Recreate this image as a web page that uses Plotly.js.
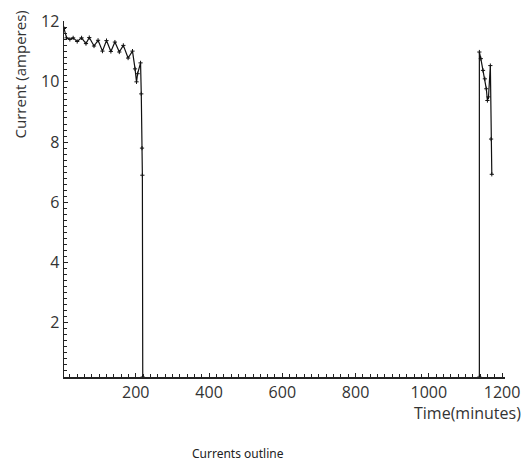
<!DOCTYPE html>
<html><head><meta charset="utf-8">
<script src="https://cdn.plot.ly/plotly-3.0.1.min.js"></script>
<style>html,body{margin:0;padding:0;background:#fff}#chart{width:523px;height:461px}</style>
</head><body><div id="chart"></div>
<script>
// Segment 1 (morning run)
var time1 = [4, 11, 20, 29, 40, 52, 64, 73, 86, 97, 109, 120, 132, 143, 155, 166, 179, 191, 198, 202, 205, 213, 215, 217, 218, 219];
var current1 = [11.77, 11.46, 11.41, 11.46, 11.34, 11.46, 11.27, 11.47, 11.19, 11.38, 11.02, 11.37, 11.01, 11.32, 10.99, 11.21, 10.79, 11.02, 10.43, 10.0, 10.27, 10.63, 9.6, 7.8, 6.9, 0.2];
// Segment 2 (evening run)
var time2 = [1138, 1138, 1142, 1148, 1153, 1157, 1160, 1163, 1168, 1170, 1172];
var current2 = [0.2, 10.99, 10.77, 10.38, 10.1, 9.77, 9.38, 9.5, 10.54, 8.1, 6.93];

var xTitle = "Time(minutes)";
var yTitle = "Current (amperes)";
var caption = "Currents outline";

var lineStyle = {color: "#111", width: 1.2};
var markerStyle = {symbol: "cross-thin", size: 3, line: {color: "#111", width: 1}, color: "#111"};

var traces = [
  {x: time1, y: current1, mode: "lines+markers", line: lineStyle, marker: markerStyle, hoverinfo: "none"},
  {x: time2, y: current2, mode: "lines+markers", line: lineStyle, marker: markerStyle, hoverinfo: "none"}
];

var axisFont = {family: "Open Sans, sans-serif", size: 16, color: "#333"};

var layout = {
  width: 523, height: 461,
  margin: {l: 64, r: 18, t: 21, b: 84},
  showlegend: false,
  paper_bgcolor: "#fff", plot_bgcolor: "#fff",
  xaxis: {
    range: [4, 1208], tickvals: [200, 400, 600, 800, 1000, 1200],
    showgrid: false, zeroline: false, showline: true, linecolor: "#222", linewidth: 1.5,
    ticks: "inside", ticklen: 4, tickcolor: "#222",
    minor: {dtick: 20, tick0: 0, ticks: "inside", ticklen: 3, tickcolor: "#222"},
    tickfont: axisFont
  },
  yaxis: {
    range: [0.2, 12.02], tickvals: [2, 4, 6, 8, 10, 12],
    showgrid: false, zeroline: false, showline: true, linecolor: "#222", linewidth: 1.5,
    ticks: "inside", ticklen: 4, tickcolor: "#222",
    minor: {dtick: 0.2, tick0: 0, ticks: "inside", ticklen: 2.5, tickcolor: "#222"},
    tickfont: axisFont
  },
  annotations: [
    {text: yTitle, textangle: -90, xref: "paper", yref: "paper", x: -0.1, y: 1.035, xanchor: "center", yanchor: "top",
     showarrow: false, font: {family: "Open Sans, sans-serif", size: 15, color: "#333"}},
    {text: xTitle, xref: "paper", yref: "paper", x: 1.041, y: -0.102, xanchor: "right", yanchor: "middle",
     showarrow: false, font: {family: "Open Sans, sans-serif", size: 16, color: "#333"}},
    {text: caption, xref: "paper", yref: "paper", x: 0.395, y: -0.215, xanchor: "center", yanchor: "middle",
     showarrow: false, font: {family: "Noto Sans, sans-serif", size: 12, color: "#222"}}
  ]
};

Plotly.newPlot("chart", traces, layout, {displayModeBar: false, staticPlot: true});
</script></body></html>
